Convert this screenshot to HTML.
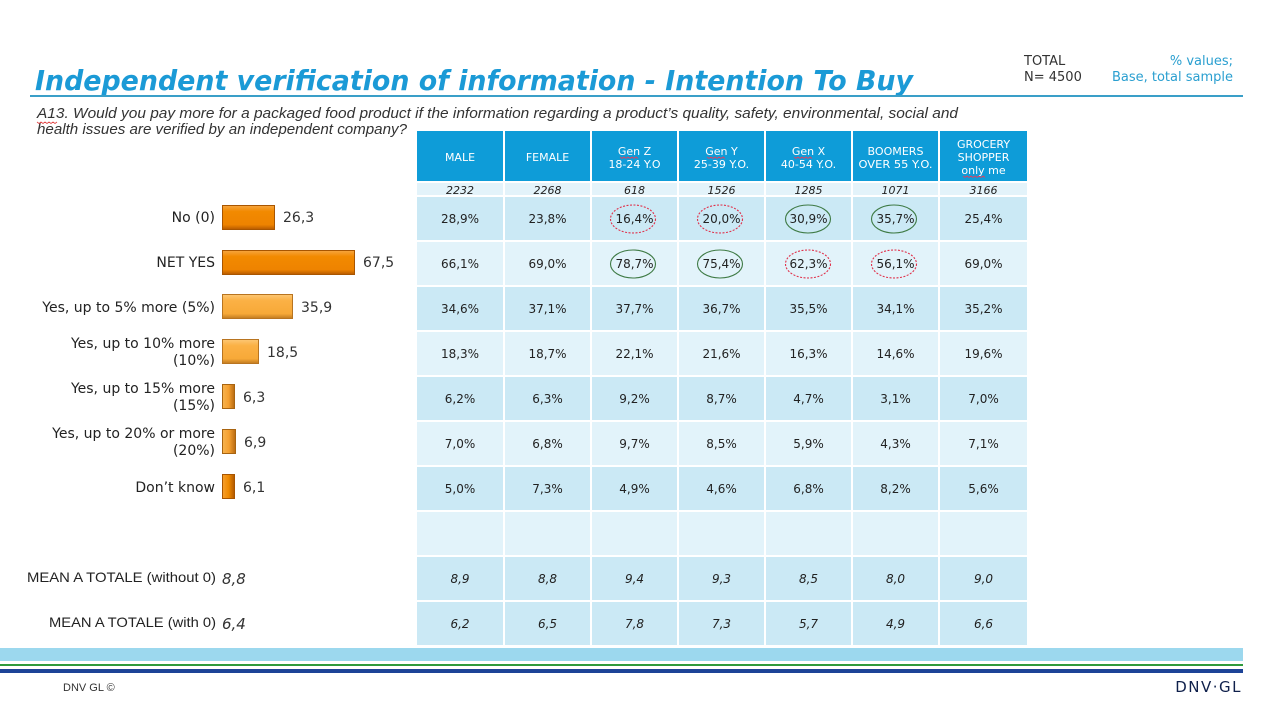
<!DOCTYPE html>
<html><head><meta charset="utf-8"><style>
html,body{margin:0;padding:0;background:#fff;}
svg{display:block;}
</style></head><body>
<svg width="1277" height="714" viewBox="0 0 1277 714" xmlns="http://www.w3.org/2000/svg" font-family="DejaVu Sans, Verdana, sans-serif">
<defs>
<linearGradient id="gd" x1="0" y1="0" x2="0" y2="1">
<stop offset="0" stop-color="#f7a640"/><stop offset="0.25" stop-color="#f28a00"/><stop offset="0.8" stop-color="#ee8300"/><stop offset="1" stop-color="#b65a00"/>
</linearGradient>
<linearGradient id="gl" x1="0" y1="0" x2="0" y2="1">
<stop offset="0" stop-color="#fcc775"/><stop offset="0.25" stop-color="#fbb145"/><stop offset="0.8" stop-color="#f7a938"/><stop offset="1" stop-color="#c07a20"/>
</linearGradient>
<linearGradient id="gv" x1="0" y1="0" x2="1" y2="0">
<stop offset="0" stop-color="#f7b450"/><stop offset="0.5" stop-color="#f5a030"/><stop offset="1" stop-color="#b86a10"/>
</linearGradient>
<linearGradient id="gvd" x1="0" y1="0" x2="1" y2="0">
<stop offset="0" stop-color="#f6a030"/><stop offset="0.5" stop-color="#f08a00"/><stop offset="1" stop-color="#b05800"/>
</linearGradient>
</defs>
<rect width="1277" height="714" fill="#fff"/>

<!-- Title -->
<text x="35" y="90" font-size="28" font-weight="bold" font-style="italic" fill="#1b9ad6" textLength="878" lengthAdjust="spacingAndGlyphs">Independent verification of information - Intention To Buy</text>
<rect x="30" y="95" width="1213" height="2" fill="#3a9fc8"/>

<!-- top right -->
<text x="1024" y="65" font-size="13" fill="#333">TOTAL</text>
<text x="1024" y="81" font-size="13" fill="#333">N= 4500</text>
<text x="1233" y="65" font-size="13" fill="#2a9fd0" text-anchor="end">% values;</text>
<text x="1233" y="81" font-size="13" fill="#2a9fd0" text-anchor="end">Base, total sample</text>

<!-- question -->
<g font-family="Liberation Sans, Arial, sans-serif" font-style="italic" font-size="15" fill="#333">
<text x="37" y="118" textLength="921" lengthAdjust="spacingAndGlyphs">A13. Would you pay more for a packaged food product if the information regarding a product’s quality, safety, environmental, social and</text>
<text x="37" y="134" textLength="370" lengthAdjust="spacingAndGlyphs">health issues are verified by an independent company?</text>
</g>
<path d="M37 122 l2 1.5 l2 -1.5 l2 1.5 l2 -1.5 l2 1.5 l2 -1.5 l2 1.5 l2 -1.5 l2 1.5 l2 -1.5" stroke="#e04040" stroke-width="0.8" fill="none"/>

<!-- Table header -->
<g fill="#0e9cd8">
<rect x="417" y="131" width="86" height="50"/>
<rect x="505" y="131" width="85" height="50"/>
<rect x="592" y="131" width="85" height="50"/>
<rect x="679" y="131" width="85" height="50"/>
<rect x="766" y="131" width="85" height="50"/>
<rect x="853" y="131" width="85" height="50"/>
<rect x="940" y="131" width="87" height="50"/>
</g>
<g fill="#fff" font-size="11" text-anchor="middle">
<text x="460" y="161">MALE</text>
<text x="547.5" y="161">FEMALE</text>
<text x="634.5" y="155">Gen Z</text><text x="634.5" y="168">18-24 Y.O</text>
<text x="721.5" y="155">Gen Y</text><text x="721.5" y="168">25-39 Y.O.</text>
<text x="808.5" y="155">Gen X</text><text x="808.5" y="168">40-54 Y.O.</text>
<text x="895.5" y="155" textLength="56" lengthAdjust="spacingAndGlyphs">BOOMERS</text><text x="895.5" y="168" textLength="74" lengthAdjust="spacingAndGlyphs">OVER 55 Y.O.</text>
<text x="983.5" y="148">GROCERY</text><text x="983.5" y="161">SHOPPER</text><text x="983.5" y="174">only me</text>
</g>
<g stroke="#e04060" stroke-width="0.8" fill="none">
<path d="M620 157 l2 1.5 l2 -1.5 l2 1.5 l2 -1.5 l2 1.5 l2 -1.5 l2 1.5 l2 -1.5 l2 1.5"/>
<path d="M707 157 l2 1.5 l2 -1.5 l2 1.5 l2 -1.5 l2 1.5 l2 -1.5 l2 1.5 l2 -1.5 l2 1.5"/>
<path d="M794 157 l2 1.5 l2 -1.5 l2 1.5 l2 -1.5 l2 1.5 l2 -1.5 l2 1.5 l2 -1.5 l2 1.5"/>
<path d="M963 176 l2 1.5 l2 -1.5 l2 1.5 l2 -1.5 l2 1.5 l2 -1.5 l2 1.5 l2 -1.5 l2 1.5 l2 -1.5 l2 1.5"/>
</g>

<!-- sample row -->
<g fill="#e3f3fa">
<rect x="417" y="183" width="86" height="12"/><rect x="505" y="183" width="85" height="12"/><rect x="592" y="183" width="85" height="12"/><rect x="679" y="183" width="85" height="12"/><rect x="766" y="183" width="85" height="12"/><rect x="853" y="183" width="85" height="12"/><rect x="940" y="183" width="87" height="12"/>
</g>
<!-- data rows -->
<g>
<g fill="#cbe9f5" transform="translate(0,197)">
<rect x="417" width="86" height="43"/><rect x="505" width="85" height="43"/><rect x="592" width="85" height="43"/><rect x="679" width="85" height="43"/><rect x="766" width="85" height="43"/><rect x="853" width="85" height="43"/><rect x="940" width="87" height="43"/>
</g>
<g fill="#e2f3fa" transform="translate(0,242)">
<rect x="417" width="86" height="43"/><rect x="505" width="85" height="43"/><rect x="592" width="85" height="43"/><rect x="679" width="85" height="43"/><rect x="766" width="85" height="43"/><rect x="853" width="85" height="43"/><rect x="940" width="87" height="43"/>
</g>
<g fill="#cbe9f5" transform="translate(0,287)">
<rect x="417" width="86" height="43"/><rect x="505" width="85" height="43"/><rect x="592" width="85" height="43"/><rect x="679" width="85" height="43"/><rect x="766" width="85" height="43"/><rect x="853" width="85" height="43"/><rect x="940" width="87" height="43"/>
</g>
<g fill="#e2f3fa" transform="translate(0,332)">
<rect x="417" width="86" height="43"/><rect x="505" width="85" height="43"/><rect x="592" width="85" height="43"/><rect x="679" width="85" height="43"/><rect x="766" width="85" height="43"/><rect x="853" width="85" height="43"/><rect x="940" width="87" height="43"/>
</g>
<g fill="#cbe9f5" transform="translate(0,377)">
<rect x="417" width="86" height="43"/><rect x="505" width="85" height="43"/><rect x="592" width="85" height="43"/><rect x="679" width="85" height="43"/><rect x="766" width="85" height="43"/><rect x="853" width="85" height="43"/><rect x="940" width="87" height="43"/>
</g>
<g fill="#e2f3fa" transform="translate(0,422)">
<rect x="417" width="86" height="43"/><rect x="505" width="85" height="43"/><rect x="592" width="85" height="43"/><rect x="679" width="85" height="43"/><rect x="766" width="85" height="43"/><rect x="853" width="85" height="43"/><rect x="940" width="87" height="43"/>
</g>
<g fill="#cbe9f5" transform="translate(0,467)">
<rect x="417" width="86" height="43"/><rect x="505" width="85" height="43"/><rect x="592" width="85" height="43"/><rect x="679" width="85" height="43"/><rect x="766" width="85" height="43"/><rect x="853" width="85" height="43"/><rect x="940" width="87" height="43"/>
</g>
<g fill="#e2f3fa" transform="translate(0,512)">
<rect x="417" width="86" height="43"/><rect x="505" width="85" height="43"/><rect x="592" width="85" height="43"/><rect x="679" width="85" height="43"/><rect x="766" width="85" height="43"/><rect x="853" width="85" height="43"/><rect x="940" width="87" height="43"/>
</g>
<g fill="#cbe9f5" transform="translate(0,557)">
<rect x="417" width="86" height="43"/><rect x="505" width="85" height="43"/><rect x="592" width="85" height="43"/><rect x="679" width="85" height="43"/><rect x="766" width="85" height="43"/><rect x="853" width="85" height="43"/><rect x="940" width="87" height="43"/>
</g>
<g fill="#cbe9f5" transform="translate(0,602)">
<rect x="417" width="86" height="43"/><rect x="505" width="85" height="43"/><rect x="592" width="85" height="43"/><rect x="679" width="85" height="43"/><rect x="766" width="85" height="43"/><rect x="853" width="85" height="43"/><rect x="940" width="87" height="43"/>
</g>
</g>

<!-- sample text -->
<g font-size="11" font-style="italic" fill="#222" text-anchor="middle">
<text x="460" y="194">2232</text><text x="547.5" y="194">2268</text><text x="634.5" y="194">618</text><text x="721.5" y="194">1526</text><text x="808.5" y="194">1285</text><text x="895.5" y="194">1071</text><text x="983.5" y="194">3166</text>
</g>

<!-- data text -->
<g font-size="12" fill="#222" text-anchor="middle">
<g transform="translate(0,223)"><text x="460">28,9%</text><text x="547.5">23,8%</text><text x="634.5">16,4%</text><text x="721.5">20,0%</text><text x="808.5">30,9%</text><text x="895.5">35,7%</text><text x="983.5">25,4%</text></g>
<g transform="translate(0,268)"><text x="460">66,1%</text><text x="547.5">69,0%</text><text x="634.5">78,7%</text><text x="721.5">75,4%</text><text x="808.5">62,3%</text><text x="895.5">56,1%</text><text x="983.5">69,0%</text></g>
<g transform="translate(0,313)"><text x="460">34,6%</text><text x="547.5">37,1%</text><text x="634.5">37,7%</text><text x="721.5">36,7%</text><text x="808.5">35,5%</text><text x="895.5">34,1%</text><text x="983.5">35,2%</text></g>
<g transform="translate(0,358)"><text x="460">18,3%</text><text x="547.5">18,7%</text><text x="634.5">22,1%</text><text x="721.5">21,6%</text><text x="808.5">16,3%</text><text x="895.5">14,6%</text><text x="983.5">19,6%</text></g>
<g transform="translate(0,403)"><text x="460">6,2%</text><text x="547.5">6,3%</text><text x="634.5">9,2%</text><text x="721.5">8,7%</text><text x="808.5">4,7%</text><text x="895.5">3,1%</text><text x="983.5">7,0%</text></g>
<g transform="translate(0,448)"><text x="460">7,0%</text><text x="547.5">6,8%</text><text x="634.5">9,7%</text><text x="721.5">8,5%</text><text x="808.5">5,9%</text><text x="895.5">4,3%</text><text x="983.5">7,1%</text></g>
<g transform="translate(0,493)"><text x="460">5,0%</text><text x="547.5">7,3%</text><text x="634.5">4,9%</text><text x="721.5">4,6%</text><text x="808.5">6,8%</text><text x="895.5">8,2%</text><text x="983.5">5,6%</text></g>
</g>
<g font-size="12" font-style="italic" fill="#222" text-anchor="middle">
<g transform="translate(0,583)"><text x="460">8,9</text><text x="547.5">8,8</text><text x="634.5">9,4</text><text x="721.5">9,3</text><text x="808.5">8,5</text><text x="895.5">8,0</text><text x="983.5">9,0</text></g>
<g transform="translate(0,628)"><text x="460">6,2</text><text x="547.5">6,5</text><text x="634.5">7,8</text><text x="721.5">7,3</text><text x="808.5">5,7</text><text x="895.5">4,9</text><text x="983.5">6,6</text></g>
</g>

<!-- circles -->
<g fill="none" stroke-width="1.1">
<ellipse cx="633" cy="219" rx="22.5" ry="14" stroke="#e0304a" stroke-dasharray="2 1.5"/>
<ellipse cx="720" cy="219" rx="22.5" ry="14" stroke="#e0304a" stroke-dasharray="2 1.5"/>
<ellipse cx="808" cy="219" rx="22.5" ry="14" stroke="#3e7a44"/>
<ellipse cx="894" cy="219" rx="22.5" ry="14" stroke="#3e7a44"/>
<ellipse cx="633" cy="264" rx="22.5" ry="14" stroke="#3e7a44"/>
<ellipse cx="720" cy="264" rx="22.5" ry="14" stroke="#3e7a44"/>
<ellipse cx="808" cy="264" rx="22.5" ry="14" stroke="#e0304a" stroke-dasharray="2 1.5"/>
<ellipse cx="894" cy="264" rx="22.5" ry="14" stroke="#e0304a" stroke-dasharray="2 1.5"/>
</g>

<!-- bars -->
<g stroke-width="1">
<rect x="222.5" y="205.5" width="52" height="24" fill="url(#gd)" stroke="#a85500"/>
<rect x="222.5" y="250.5" width="132" height="24" fill="url(#gd)" stroke="#a85500"/>
<rect x="222.5" y="294.5" width="70" height="24" fill="url(#gl)" stroke="#b87420"/>
<rect x="222.5" y="339.5" width="36" height="24" fill="url(#gl)" stroke="#b87420"/>
<rect x="222.5" y="384.5" width="12" height="24" fill="url(#gv)" stroke="#a86410"/>
<rect x="222.5" y="429.5" width="13" height="24" fill="url(#gv)" stroke="#a86410"/>
<rect x="222.5" y="474.5" width="12" height="24" fill="url(#gvd)" stroke="#a85500"/>
</g>
<g font-size="14" fill="#333">
<text x="283" y="222">26,3</text>
<text x="363" y="267">67,5</text>
<text x="301" y="312">35,9</text>
<text x="267" y="357">18,5</text>
<text x="243" y="402">6,3</text>
<text x="244" y="447">6,9</text>
<text x="243" y="492">6,1</text>
</g>
<g font-size="14" fill="#222" text-anchor="end">
<text x="215" y="222">No (0)</text>
<text x="215" y="267">NET YES</text>
<text x="215" y="312">Yes, up to 5% more (5%)</text>
<text x="215" y="348">Yes, up to 10% more</text><text x="215" y="365">(10%)</text>
<text x="215" y="393">Yes, up to 15% more</text><text x="215" y="410">(15%)</text>
<text x="215" y="438">Yes, up to 20% or more</text><text x="215" y="455">(20%)</text>
<text x="215" y="492">Don’t know</text>
</g>

<!-- mean labels -->
<g font-family="Liberation Sans, Arial, sans-serif" font-size="14" fill="#222">
<text x="27" y="582" textLength="189" lengthAdjust="spacingAndGlyphs">MEAN A TOTALE (without 0)</text>
<text x="49" y="627" textLength="167" lengthAdjust="spacingAndGlyphs">MEAN A TOTALE (with 0)</text>
</g>
<g font-size="15" font-style="italic" fill="#333">
<text x="222" y="584">8,8</text>
<text x="222" y="629">6,4</text>
</g>

<!-- footer -->
<rect x="0" y="648" width="1243" height="13" fill="#9cd8ee"/>
<rect x="0" y="664" width="1243" height="2" fill="#2e9a3c"/>
<rect x="0" y="669" width="1243" height="4" fill="#1d4397"/>
<text x="63" y="691" font-family="Liberation Sans, Arial, sans-serif" font-size="11" fill="#333">DNV GL ©</text>
<text x="1242" y="692" font-size="15" fill="#0f204b" text-anchor="end" letter-spacing="1.5">DNV·GL</text>
</svg>
</body></html>
